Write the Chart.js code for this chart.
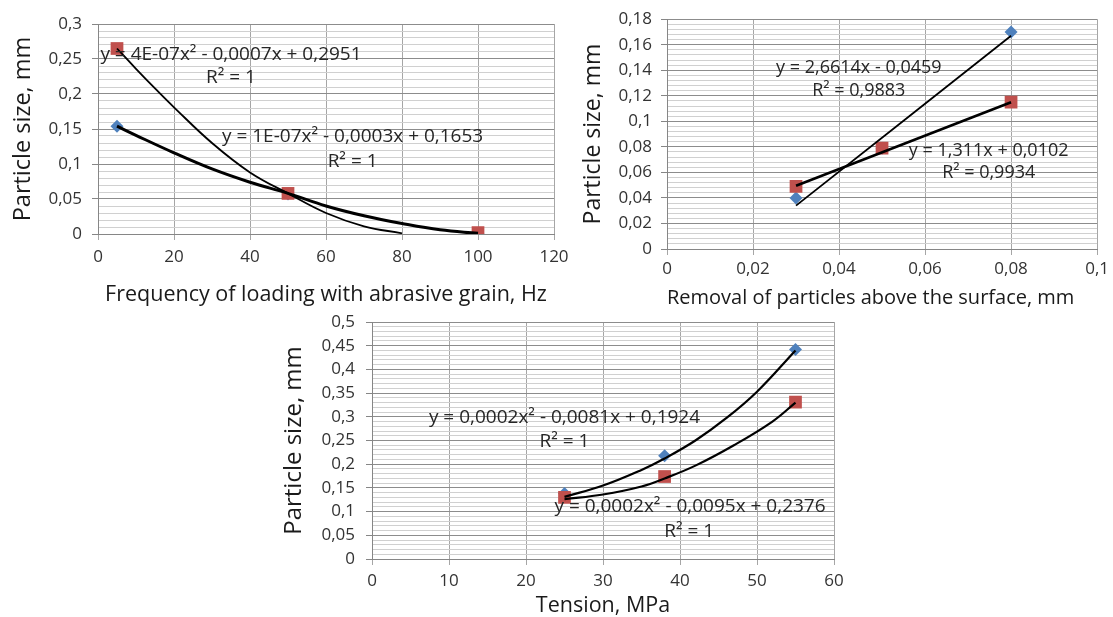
<!DOCTYPE html>
<html>
<head>
<meta charset="utf-8">
<script src="https://cdn.jsdelivr.net/npm/chart.js@4"></script>
<style>
  body { margin: 0; background: #fff; }
  canvas { position: absolute; left: 0; top: 0; }
</style>
</head>
<body>
<canvas id="frequency" width="1113" height="617"></canvas>
<canvas id="removal" width="1113" height="617"></canvas>
<canvas id="tension" width="1113" height="617"></canvas>
<script>
// chart 1 - frequency of loading
const freqX = [5, 50, 100];
const freqBlue = [0.154, 0.057, 0];
const freqRed = [0.265, 0.058, 0.002];
const freqFitBlueX = [5, 10, 20, 30, 40, 50, 60, 70, 80, 90, 100];
const freqFitBlueY = [0.154, 0.141, 0.116, 0.093, 0.074, 0.058, 0.04, 0.026, 0.015, 0.006, 0.001];
const freqFitRedX = [5, 10, 15, 20, 30, 40, 50, 60, 70, 80];
const freqFitRedY = [0.265, 0.236, 0.208, 0.181, 0.13, 0.088, 0.058, 0.03, 0.011, 0.001];

// chart 2 - removal of particles
const remX = [0.03, 0.05, 0.08];
const remBlue = [0.04, 0.079, 0.17];
const remRed = [0.049, 0.079, 0.115];
const remFitX = [0.03, 0.08];
const remFitBlueY = [0.034, 0.167];
const remFitRedY = [0.0495, 0.115];

// chart 3 - tension
const tenX = [25, 38, 55];
const tenBlue = [0.138, 0.218, 0.442];
const tenRed = [0.13, 0.174, 0.331];
const tenFitBlueX = [25, 30, 35, 38, 42, 46, 50, 55];
const tenFitBlueY = [0.131, 0.155, 0.188, 0.212, 0.25, 0.297, 0.353, 0.44];
const tenFitRedX = [25, 30, 35, 38, 42, 47, 52, 55];
const tenFitRedY = [0.126, 0.136, 0.153, 0.17, 0.197, 0.24, 0.29, 0.33];

const FONT = '"Open Sans", sans-serif';
const blue = "#4f81bd";
const red = "#c0504d";

function comma(v) {
  return String(+Number(v).toFixed(3)).replace(".", ",");
}

function isMajor(v, step) {
  const r = v / step;
  return Math.abs(r - Math.round(r)) < 1e-6;
}

function pts(xs, ys) {
  return xs.map((x, i) => ({ x: x, y: ys[i] }));
}

// trendline equations, placed in data coordinates
const notes = {
  id: "notes",
  afterDatasetsDraw(chart, args, opts) {
    const { ctx, scales } = chart;
    ctx.save();
    ctx.font = opts.size + "px " + FONT;
    ctx.fillStyle = "#262626";
    ctx.textAlign = "center";
    ctx.textBaseline = "middle";
    (opts.items || []).forEach((n) => {
      ctx.fillText(n.text, scales.x.getPixelForValue(n.x), scales.y.getPixelForValue(n.y));
    });
    ctx.restore();
  },
};

function fitLine(data, width) {
  return {
    data: data,
    showLine: true,
    pointRadius: 0,
    borderColor: "#000",
    borderWidth: width,
    tension: 0.4,
    order: 0,
  };
}

function makeChart(id, c) {
  return new Chart(document.getElementById(id), {
    type: "scatter",
    data: {
      datasets: [
        fitLine(c.fitBlue, c.wBlue),
        fitLine(c.fitRed, c.wRed),
        {
          data: c.red,
          pointStyle: "rect",
          pointRadius: 9,
          pointBorderWidth: 0,
          backgroundColor: red,
          order: 1,
        },
        {
          data: c.blue,
          pointStyle: "rectRot",
          pointRadius: 6.5,
          pointBorderWidth: 0,
          backgroundColor: blue,
          order: 2,
        },
      ],
    },
    plugins: [notes],
    options: {
      responsive: false,
      animation: false,
      events: [],
      layout: { padding: c.padding },
      plugins: {
        legend: { display: false },
        tooltip: { enabled: false },
        notes: { items: c.notes, size: c.noteSize },
      },
      scales: {
        x: {
          type: "linear",
          min: 0,
          max: c.xMax,
          ticks: {
            stepSize: c.xStep,
            padding: c.xPad,
            color: "#333",
            font: { family: FONT, size: 17 },
            callback: (v) => comma(v),
          },
          grid: { color: "#a6a6a6", tickLength: 6 },
          border: { color: "#868686" },
          title: {
            display: true,
            text: c.xTitle,
            align: c.xTitleAlign || "center",
            color: "#1a1a1a",
            font: { family: FONT, size: c.xTitleSize, lineHeight: 1 },
            padding: { top: 0, bottom: c.xTitlePad },
          },
          afterFit: (s) => { s.height = c.xHeight; },
        },
        y: {
          type: "linear",
          min: 0,
          max: c.yMax,
          ticks: {
            stepSize: c.yMinor,
            autoSkip: false,
            padding: c.yPad,
            color: "#333",
            font: { family: FONT, size: 17 },
            callback: (v) => (isMajor(v, c.yMajor) ? comma(v) : ""),
          },
          grid: {
            color: (ctx) => (ctx.tick && isMajor(ctx.tick.value, c.yMajor) ? "#8c8c8c" : "#d0d0d0"),
            tickColor: (ctx) => (ctx.tick && isMajor(ctx.tick.value, c.yMajor) ? "#868686" : "rgba(0,0,0,0)"),
            tickLength: 6,
          },
          border: { color: "#868686" },
          title: {
            display: true,
            text: "Particle size, mm",
            color: "#1a1a1a",
            font: { family: FONT, size: c.yTitleSize, lineHeight: 1 },
            padding: { top: c.yTitlePad, bottom: 0 },
          },
          afterFit: (s) => { s.width = c.yWidth; },
        },
      },
    },
  });
}

makeChart("frequency", {
  blue: pts(freqX, freqBlue),
  red: pts(freqX, freqRed),
  fitBlue: pts(freqFitBlueX, freqFitBlueY),
  fitRed: pts(freqFitRedX, freqFitRedY),
  wBlue: 3,
  wRed: 1.8,
  xMax: 120, xStep: 20, xPad: 7,
  yMax: 0.3, yMinor: 0.01, yMajor: 0.05, yPad: 10,
  xTitle: "Frequency of loading with abrasive grain, Hz",
  xTitleSize: 21.5, xTitlePad: 14, xHeight: 86,
  yTitleSize: 23.5, yTitlePad: 12, yWidth: 98,
  padding: { left: 0, top: 24, right: 559, bottom: 297 },
  noteSize: 19,
  notes: [
    { text: "y = 4E-07x\u00b2 - 0,0007x + 0,2951", x: 35, y: 0.256 },
    { text: "R\u00b2 = 1", x: 35, y: 0.223 },
    { text: "y = 1E-07x\u00b2 - 0,0003x + 0,1653", x: 67, y: 0.139 },
    { text: "R\u00b2 = 1", x: 67, y: 0.103 },
  ],
});

makeChart("removal", {
  blue: pts(remX, remBlue),
  red: pts(remX, remRed),
  fitBlue: pts(remFitX, remFitBlueY),
  fitRed: pts(remFitX, remFitRedY),
  wBlue: 1.8,
  wRed: 2.6,
  xMax: 0.1, xStep: 0.02, xPad: 4,
  yMax: 0.18, yMinor: 0.004, yMajor: 0.02, yPad: 9,
  xTitle: "Removal of particles above the surface, mm",
  xTitleSize: 20, xTitleAlign: "start", xTitlePad: 12, xHeight: 71,
  yTitleSize: 23, yTitlePad: 22, yWidth: 107,
  padding: { left: 560, top: 18, right: 11, bottom: 297 },
  noteSize: 18,
  notes: [
    { text: "y = 2,6614x - 0,0459", x: 0.0446, y: 0.142 },
    { text: "R\u00b2 = 0,9883", x: 0.0446, y: 0.124 },
    { text: "y = 1,311x + 0,0102", x: 0.0748, y: 0.0772 },
    { text: "R\u00b2 = 0,9934", x: 0.0748, y: 0.06 },
  ],
});

makeChart("tension", {
  blue: pts(tenX, tenBlue),
  red: pts(tenX, tenRed),
  fitBlue: pts(tenFitBlueX, tenFitBlueY),
  fitRed: pts(tenFitRedX, tenFitRedY),
  wBlue: 2.2,
  wRed: 2.2,
  xMax: 60, xStep: 10, xPad: 6,
  yMax: 0.5, yMinor: 0.01, yMajor: 0.05, yPad: 11,
  xTitle: "Tension, MPa",
  xTitleSize: 21.5, xTitlePad: 0, xHeight: 58,
  yTitleSize: 24, yTitlePad: 12, yWidth: 102,
  padding: { left: 270, top: 322, right: 279, bottom: 0 },
  noteSize: 19,
  notes: [
    { text: "y = 0,0002x\u00b2 - 0,0081x + 0,1924", x: 25, y: 0.2975 },
    { text: "R\u00b2 = 1", x: 25, y: 0.247 },
    { text: "y = 0,0002x\u00b2 - 0,0095x + 0,2376", x: 41.3, y: 0.11 },
    { text: "R\u00b2 = 1", x: 41.2, y: 0.057 },
  ],
});
</script>
</body>
</html>
